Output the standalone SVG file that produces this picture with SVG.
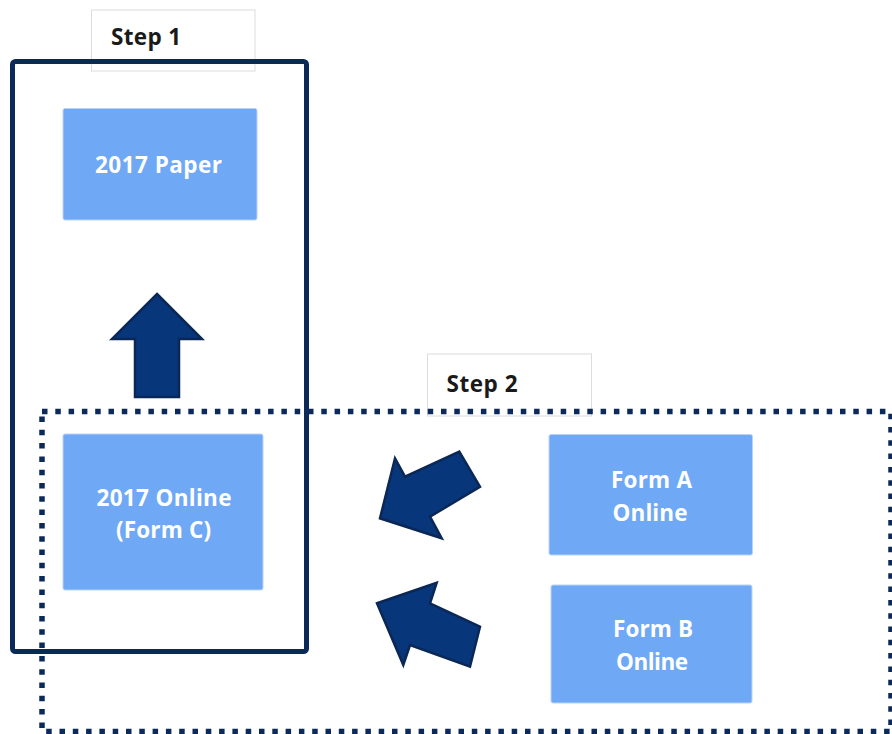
<svg xmlns="http://www.w3.org/2000/svg" width="892" height="734" viewBox="0 0 892 734">
  <style>
    .lbl { fill: #ffffff; stroke: #dcdcdc; stroke-width: 1; }
    .lbltxt { font-family: "Open Sans", "DejaVu Sans", sans-serif; font-weight: 700; font-size: 22.5px; fill: #1a1a1a; }
    .box { fill: #6fa8f5; stroke: #b9d3f6; stroke-width: 1; }
    .boxtxt { font-family: "Open Sans", "DejaVu Sans", sans-serif; font-weight: 700; font-size: 22.5px; fill: #ffffff; text-anchor: middle; }
    .solid { fill: none; stroke: #0b2a5a; stroke-width: 5; }
    .dotted { fill: none; stroke: #0b2a5a; stroke-width: 5.5; stroke-dasharray: 5.5 7.8; }
    .arrow { fill: #08367a; stroke: #0a2756; stroke-width: 2.5; stroke-linejoin: miter; }
  </style>
  <rect width="892" height="734" fill="#ffffff"/>

  <g id="step1-label">
    <rect class="lbl" x="91.5" y="10" width="163.5" height="61"/>
    <text class="lbltxt" x="111" y="45" textLength="70" lengthAdjust="spacing">Step 1</text>
  </g>
  <g id="step2-label">
    <rect class="lbl" x="427.5" y="354" width="164" height="62"/>
    <text class="lbltxt" x="446.5" y="392" textLength="71" lengthAdjust="spacing">Step 2</text>
  </g>

  <g id="step1">
    <rect class="solid" x="12.5" y="61.5" width="294" height="590" rx="3"/>
  </g>
  <g id="step2">
    <rect class="dotted" x="42" y="411.5" width="849" height="320"/>
  </g>

  <g id="paper2017">
    <rect class="box" x="63" y="108.5" width="194" height="111.5" rx="2"/>
    <text class="boxtxt" x="158.5" y="173" textLength="127" lengthAdjust="spacing">2017 Paper</text>
  </g>
  <g id="online2017">
    <rect class="box" x="63" y="434" width="200" height="156" rx="2"/>
    <text class="boxtxt" x="164" y="505.5" textLength="135" lengthAdjust="spacing">2017 Online</text>
    <text class="boxtxt" x="163.5" y="537.5" textLength="95" lengthAdjust="spacing">(Form C)</text>
  </g>
  <g id="formA">
    <rect class="box" x="549" y="434.5" width="203.5" height="120.5" rx="2"/>
    <text class="boxtxt" x="651.5" y="488" textLength="81" lengthAdjust="spacing">Form A</text>
    <text class="boxtxt" x="650" y="520.5" textLength="75" lengthAdjust="spacing">Online</text>
  </g>
  <g id="formB">
    <rect class="box" x="551" y="585" width="201" height="118" rx="2"/>
    <text class="boxtxt" x="653" y="637" textLength="80" lengthAdjust="spacing">Form B</text>
    <text class="boxtxt" x="652" y="669.5" textLength="72" lengthAdjust="spacing">Online</text>
  </g>

  <g id="connectors">
    <polygon class="arrow" points="157,294 202,339 179,339 179,397 135,397 135,339 112,339"/>
    <polygon class="arrow" points="380,518.3 395,458.3 405,476.7 459.3,451.7 480,486.7 430,516.7 441.7,538.3"/>
    <polygon class="arrow" points="377,603.3 436.7,582.7 430,603.3 480,626.7 470,666.7 410,645 403.3,665"/>
  </g>
</svg>
